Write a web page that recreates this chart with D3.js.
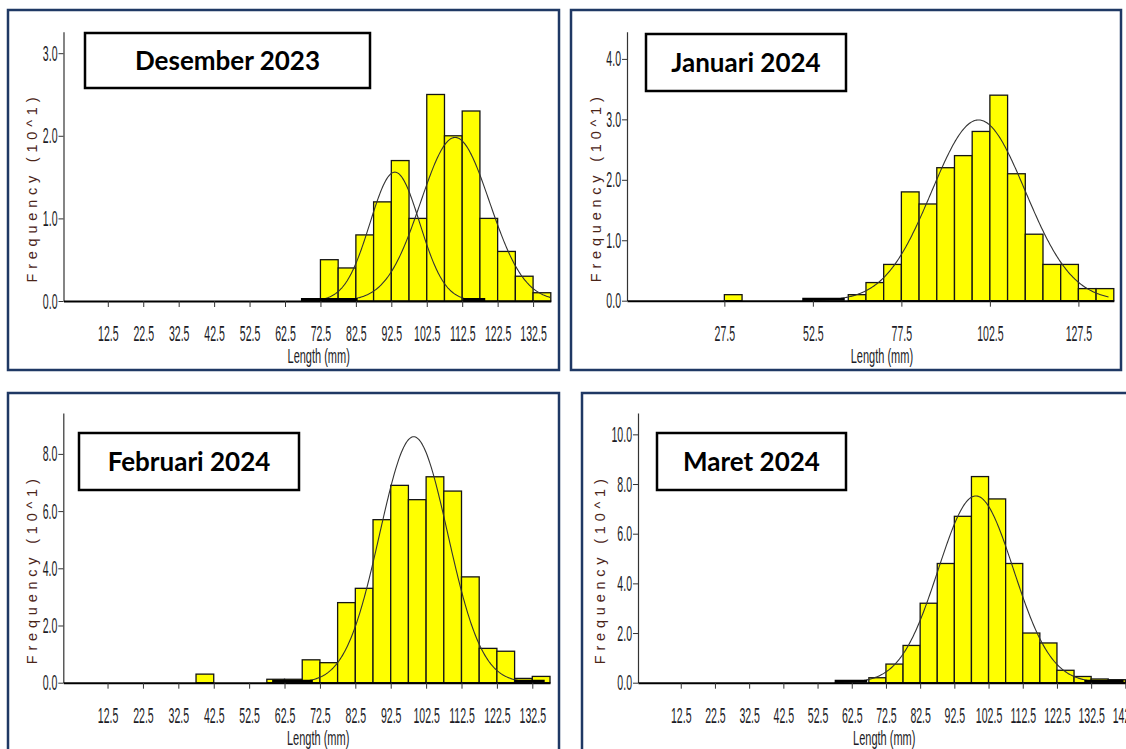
<!DOCTYPE html>
<html>
<head>
<meta charset="utf-8">
<script src="https://cdn.jsdelivr.net/npm/d3@7"></script>
<style>
  html, body { margin: 0; padding: 0; background: #fff; }
  svg { display: block; }
</style>
</head>
<body>
<svg id="chart" width="1126" height="749"></svg>
<script>
// Monthly length-frequency histograms (5 mm classes) with fitted normal components.

const classWidth = 5;

// Desember 2023
const decLower = [72.5, 77.5, 82.5, 87.5, 92.5, 97.5, 102.5, 107.5, 112.5, 117.5, 122.5, 127.5, 132.5];
const decFreq  = [0.5, 0.4, 0.8, 1.2, 1.7, 1.0, 2.5, 2.0, 2.3, 1.0, 0.6, 0.3, 0.1];

// Januari 2024
const janLower = [27.5, 62.5, 67.5, 72.5, 77.5, 82.5, 87.5, 92.5, 97.5, 102.5, 107.5, 112.5, 117.5, 122.5, 127.5, 132.5];
const janFreq  = [0.1, 0.1, 0.3, 0.6, 1.8, 1.6, 2.2, 2.4, 2.8, 3.4, 2.1, 1.1, 0.6, 0.6, 0.2, 0.2];

// Februari 2024
const febLower = [37.5, 57.5, 62.5, 67.5, 72.5, 77.5, 82.5, 87.5, 92.5, 97.5, 102.5, 107.5, 112.5, 117.5, 122.5, 127.5, 132.5];
const febFreq  = [0.3, 0.12, 0.12, 0.8, 0.7, 2.8, 3.3, 5.7, 6.9, 6.4, 7.2, 6.7, 3.7, 1.2, 1.1, 0.15, 0.22];

// Maret 2024
const marLower = [67.5, 72.5, 77.5, 82.5, 87.5, 92.5, 97.5, 102.5, 107.5, 112.5, 117.5, 122.5, 127.5, 132.5, 137.5];
const marFreq  = [0.2, 0.75, 1.5, 3.2, 4.8, 6.7, 8.3, 7.4, 4.8, 2.0, 1.6, 0.5, 0.25, 0.15, 0.12];

// Fitted normal components: mean (mm), standard deviation (mm), peak height, drawn range (mm)
const decMean = [93.5, 110.5], decSd = [7.0, 9.7], decPeak = [1.56, 1.98], decRange = [[67, 119], [74, 137.5]];
const janMean = [99.3], janSd = [13.2], janPeak = [2.99], janRange = [[49.5, 136]];
const febMean = [99.0], febSd = [9.6],  febPeak = [8.6],  febRange = [[59, 136]];
const marMean = [98.8], marSd = [11.0], marPeak = [7.52], marRange = [[57.5, 142]];

// Tick values
const xTicksFine = [12.5, 22.5, 32.5, 42.5, 52.5, 62.5, 72.5, 82.5, 92.5, 102.5, 112.5, 122.5, 132.5];
const xTicksJan  = [27.5, 52.5, 77.5, 102.5, 127.5];
const xTicksMar  = [12.5, 22.5, 32.5, 42.5, 52.5, 62.5, 72.5, 82.5, 92.5, 102.5, 112.5, 122.5, 132.5, 142.5];
const yTicksDec  = [0, 1, 2, 3];
const yTicksJan  = [0, 1, 2, 3, 4];
const yTicksFeb  = [0, 2, 4, 6, 8];
const yTicksMar  = [0, 2, 4, 6, 8, 10];

const titles = ["Desember 2023", "Januari 2024", "Februari 2024", "Maret 2024"];
const xAxisTitle = "Length (mm)";
const yAxisTitle = "Frequency (10^1)";

// Panel layout
const panels = [
  { title: titles[0], lower: decLower, freq: decFreq, mean: decMean, sd: decSd, peak: decPeak, range: decRange,
    xTicks: xTicksFine, yTicks: yTicksDec,
    frame: [8, 10, 551, 360], xr: [63.5, 550.8], xMax: 137.5, base: 301, top: 31.7, yMax: 3.26,
    box: [85, 33, 285, 55], yLabelX: 37 },
  { title: titles[1], lower: janLower, freq: janFreq, mean: janMean, sd: janSd, peak: janPeak, range: janRange,
    xTicks: xTicksJan, yTicks: yTicksJan,
    frame: [571, 10, 550, 360], xr: [627, 1113.8], xMax: 137.5, base: 300.7, top: 31.7, yMax: 4.45,
    box: [646, 34, 200, 57], yLabelX: 601 },
  { title: titles[2], lower: febLower, freq: febFreq, mean: febMean, sd: febSd, peak: febPeak, range: febRange,
    xTicks: xTicksFine, yTicks: yTicksFeb,
    frame: [8, 393, 551, 370], xr: [63.3, 550], xMax: 137.5, base: 682.7, top: 413, yMax: 9.43,
    box: [79, 433, 220, 57], yLabelX: 37 },
  { title: titles[3], lower: marLower, freq: marFreq, mean: marMean, sd: marSd, peak: marPeak, range: marRange,
    xTicks: xTicksMar, yTicks: yTicksMar,
    frame: [582, 393, 560, 370], xr: [638, 1133.9], xMax: 145, base: 682.7, top: 413, yMax: 10.86,
    box: [657, 433, 189, 57], yLabelX: 605 }
];

const svg = d3.select("#chart");
const tickFont = "'Liberation Sans', Arial, sans-serif";
const sx = 0.48; // narrow tick lettering

panels.forEach(p => {
  const g = svg.append("g");
  const x = d3.scaleLinear().domain([0, p.xMax]).range(p.xr);
  const y = d3.scaleLinear().domain([0, p.yMax]).range([p.base, p.top]);

  // panel frame
  g.append("rect")
    .attr("x", p.frame[0]).attr("y", p.frame[1])
    .attr("width", p.frame[2]).attr("height", p.frame[3])
    .attr("fill", "none").attr("stroke", "#1f3864").attr("stroke-width", 2.5);

  // histogram bars
  const bins = p.lower.map((l, i) => ({ lo: l, v: p.freq[i] }));
  g.append("g").selectAll("rect").data(bins).join("rect")
    .attr("x", d => x(d.lo))
    .attr("width", d => x(d.lo + classWidth) - x(d.lo))
    .attr("y", d => y(d.v))
    .attr("height", d => y(0) - y(d.v))
    .attr("fill", "#ffff00")
    .attr("stroke", "#151515")
    .attr("stroke-width", 1.3);

  // fitted normal curves
  p.mean.forEach((m, k) => {
    const pts = [];
    for (let v = p.range[k][0]; v <= p.range[k][1] + 1e-9; v += 0.25) {
      pts.push([v, p.peak[k] * Math.exp(-0.5 * Math.pow((v - m) / p.sd[k], 2))]);
    }
    g.append("path").datum(pts)
      .attr("fill", "none").attr("stroke", "#333").attr("stroke-width", 1.1)
      .attr("d", d3.line().x(d => x(d[0])).y(d => y(d[1])));
    // tails running along the baseline
    g.append("path").datum(pts)
      .attr("fill", "none").attr("stroke", "#000").attr("stroke-width", 3)
      .attr("d", d3.line().defined(d => y(0) - y(d[1]) < 3)
        .x(d => x(d[0])).y(() => y(0) - 1.5));
  });

  // y axis
  const ya = g.append("g").attr("transform", `translate(${p.xr[0]},0)`)
    .call(d3.axisLeft(y).tickValues(p.yTicks).tickFormat(d3.format(".1f"))
      .tickSize(5).tickSizeOuter(0).tickPadding(1));
  ya.select(".domain").attr("stroke", "#333").attr("stroke-width", 1.2);
  ya.selectAll(".tick line").attr("stroke", "#333");
  ya.selectAll(".tick text")
    .attr("font-family", tickFont).attr("font-size", 22).attr("fill", "#1c1c26")
    .attr("x", -6 / sx).attr("transform", `scale(${sx},1)`);

  // x axis
  const xa = g.append("g").attr("transform", `translate(0,${p.base})`)
    .call(d3.axisBottom(x).tickValues(p.xTicks).tickFormat(d3.format(".1f"))
      .tickSize(6).tickSizeOuter(0));
  xa.select(".domain").attr("stroke", "#000").attr("stroke-width", 2);
  xa.selectAll(".tick line").attr("stroke", "#333");
  xa.selectAll(".tick text")
    .attr("font-family", tickFont).attr("font-size", 22).attr("fill", "#1c1c26")
    .attr("y", 40).attr("dy", 0).attr("transform", `scale(${sx},1)`);

  // x axis title
  g.append("text")
    .attr("transform", `translate(${x(72)},${p.base + 62}) scale(0.55,1)`)
    .attr("text-anchor", "middle")
    .attr("font-family", tickFont).attr("font-size", 20).attr("fill", "#1c1c26")
    .text(xAxisTitle);

  // y axis title
  g.append("text")
    .attr("transform", `translate(${p.yLabelX},${p.base - 111}) rotate(-90)`)
    .attr("text-anchor", "middle")
    .attr("font-family", "'Liberation Sans', Arial, sans-serif")
    .attr("font-size", 14.5).attr("fill", "#4a2418")
    .attr("textLength", 185).attr("lengthAdjust", "spacing")
    .text(yAxisTitle);

  // title box
  g.append("rect")
    .attr("x", p.box[0]).attr("y", p.box[1]).attr("width", p.box[2]).attr("height", p.box[3])
    .attr("fill", "#fff").attr("stroke", "#000").attr("stroke-width", 2.5);
  g.append("text")
    .attr("x", p.box[0] + p.box[2] / 2).attr("y", p.box[1] + p.box[3] / 2)
    .attr("dy", "0.36em")
    .attr("text-anchor", "middle")
    .attr("font-family", "Lato, 'Open Sans', sans-serif").attr("font-weight", 700)
    .attr("font-size", 26).attr("fill", "#000")
    .text(p.title);
});
</script>
</body>
</html>
